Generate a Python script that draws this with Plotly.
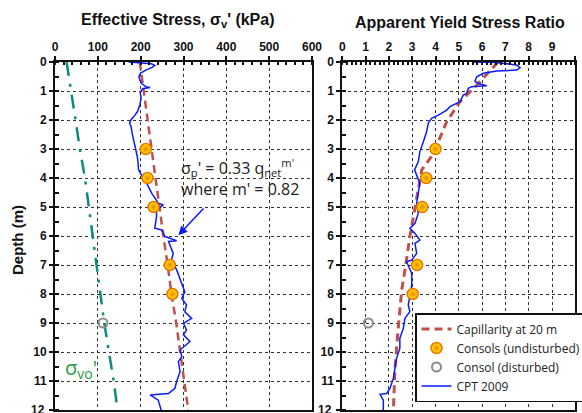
import plotly.graph_objects as go

W, H = 582, 413

# ---- data ---------------------------------------------------------------
# in-situ vertical effective stress (kPa) vs depth (m)
svo_depth = [0, 1, 2, 3, 4, 5, 6, 7, 8, 9, 10, 11, 12]
svo_kpa = [27, 38, 48, 58, 70, 79, 88, 97, 106, 115, 126, 137, 146]

# capillarity at 20 m: yield stress (kPa) and yield stress ratio
cap_depth = [0, 1, 2, 3, 3.75, 5, 6, 7, 8, 9, 10, 11, 12]
cap_kpa = [198, 207, 216, 225, 232, 243, 253, 263, 272, 283, 292, 301, 311]
cap_ratio_depth = [0, 0.8, 1.37, 2.06, 2.75, 3.09, 3.72, 4.99, 6.02, 7.17, 7.86, 9.18, 10.56, 12.06]
cap_ratio = [6.68, 5.77, 5.05, 4.48, 4.12, 3.98, 3.41, 3.12, 2.90, 2.69, 2.55, 2.40, 2.26, 2.19]

# oedometer tests
consol_depth = [3, 4, 5, 7, 8]
consol_kpa = [212, 216, 230, 268, 274]
consol_ratio = [4.0, 3.60, 3.43, 3.21, 3.02]
dist_depth = [9]
dist_kpa = [112]
dist_ratio = [1.12]

# CPT 2009 derived profile (kPa)
cpt_depth = [0.00, 0.02, 0.06, 0.12, 0.18, 0.28, 0.38, 0.50, 0.62, 0.75, 0.85, 0.88,
             0.92, 1.05, 1.25, 1.48, 1.70, 1.85, 1.98, 2.10, 2.25, 2.45, 2.65, 2.85,
             3.05, 3.25, 3.50, 3.72, 3.90, 4.18, 4.53, 4.87, 4.93, 5.10, 5.33, 5.73,
             5.79, 6.02, 6.16, 6.19, 6.60, 6.83, 7.17, 7.63, 7.92, 8.15, 8.38, 8.61,
             8.84, 9.01, 9.24, 9.41, 9.64, 9.93, 10.16, 10.33, 10.68, 11.02, 11.25,
             11.43, 11.48, 11.66, 11.89, 12.06]
cpt_kpa = [172, 200, 225, 233, 228, 212, 200, 196, 198, 203, 212, 222,
           205, 199, 201, 198, 193, 186, 178, 174, 178, 180, 183, 187,
           190, 192, 194, 195, 202, 214, 226, 241, 253, 237, 237, 233,
           249, 257, 284, 265, 276, 272, 284, 296, 303, 296, 307, 303,
           319, 300, 307, 300, 315, 292, 296, 288, 292, 284, 280,
           265, 222, 241, 245, 249]

# CPT 2009 yield stress ratio
cpt_r_depth = [0.00, 0.02, 0.10, 0.20, 0.28, 0.31, 0.39, 0.51, 0.66, 0.74, 0.82, 0.83,
               0.85, 0.91, 1.08, 1.14, 1.37, 1.54, 1.66, 1.83, 1.94, 2.11, 2.40, 2.75,
               3.09, 3.44, 3.72, 3.90, 4.18, 4.53, 4.87, 5.22, 5.56, 5.73, 5.91, 6.14,
               6.25, 6.60, 6.83, 6.89, 7.29, 7.69, 8.03, 8.38, 8.61, 8.84, 9.18, 9.53,
               9.87, 10.22, 10.56, 10.91, 11.25, 11.43, 11.46, 11.66, 12.06]
cpt_ratio = [5.62, 6.63, 7.48, 7.63, 7.48, 6.63, 6.05, 5.77, 5.69, 5.84, 6.20, 5.84,
             5.55, 5.41, 5.34, 5.19, 5.05, 4.62, 4.48, 4.12, 3.83, 3.69, 3.62, 3.48,
             3.33, 3.26, 3.10, 3.19, 3.33, 3.26, 3.19, 3.26, 3.12, 2.90, 3.12, 3.33,
             3.12, 3.19, 2.98, 2.76, 2.98, 2.98, 2.90, 2.83, 2.90, 2.69, 2.62, 2.47,
             2.47, 2.33, 2.26, 2.19, 2.05, 1.90, 1.62, 1.76, 1.76]

# ---- styles -------------------------------------------------------------
RED = "#c0504d"
BLUE = "#0a1bff"
TEAL = "#0d8a7e"
FONT = "Liberation Sans"

fig = go.Figure()

undist_marker = dict(symbol="circle", size=11, color="#ffee00",
                     gradient=dict(type="radial", color="#f08000"),
                     line=dict(color="#ee7000", width=1.5))
dist_marker = dict(symbol="circle-open", size=9, color="#8c8c8c",
                   line=dict(color="#8c8c8c", width=2))

# left panel
fig.add_trace(go.Scatter(x=svo_kpa, y=svo_depth, mode="lines", xaxis="x", yaxis="y",
                         line=dict(color=TEAL, width=2.5, dash="14px,8px,3px,8px"),
                         showlegend=False))
fig.add_trace(go.Scatter(x=cap_kpa, y=cap_depth, mode="lines", xaxis="x", yaxis="y",
                         line=dict(color=RED, width=2.5, dash="8px,5px"), showlegend=False))
fig.add_trace(go.Scatter(x=cpt_kpa, y=cpt_depth, mode="lines", xaxis="x", yaxis="y",
                         line=dict(color=BLUE, width=1.5), showlegend=False))
fig.add_trace(go.Scatter(x=consol_kpa, y=consol_depth, mode="markers", xaxis="x", yaxis="y",
                         marker=undist_marker, showlegend=False))
fig.add_trace(go.Scatter(x=dist_kpa, y=dist_depth, mode="markers", xaxis="x", yaxis="y",
                         marker=dist_marker, showlegend=False))

# right panel (lines first so the markers sit on top)
fig.add_trace(go.Scatter(x=cap_ratio, y=cap_ratio_depth, mode="lines", xaxis="x2", yaxis="y2",
                         name="Capillarity at 20 m", legendrank=1,
                         line=dict(color=RED, width=3, dash="8px,5px")))
fig.add_trace(go.Scatter(x=cpt_ratio, y=cpt_r_depth, mode="lines", xaxis="x2", yaxis="y2",
                         name="CPT 2009", legendrank=4, line=dict(color=BLUE, width=1.5)))
fig.add_trace(go.Scatter(x=consol_ratio, y=consol_depth, mode="markers", xaxis="x2", yaxis="y2",
                         name="Consols (undisturbed)", legendrank=2, marker=undist_marker))
fig.add_trace(go.Scatter(x=dist_ratio, y=dist_depth, mode="markers", xaxis="x2", yaxis="y2",
                         name="Consol (disturbed)", legendrank=3, marker=dist_marker))


def px_x(p):
    return p / W


def px_y(p):
    return 1 - p / H


tickfont = dict(family=FONT, size=12, color="#111", weight="bold")
common_x = dict(side="top", showgrid=True, gridcolor="#333", griddash="dot", gridwidth=1,
                showline=True, linecolor="#111", linewidth=2, mirror=True,
                ticks="outside", ticklen=4, tickwidth=2, tickcolor="#111", automargin=False,
                zeroline=False, tickfont=tickfont)
minor_x = dict(ticks="inside", ticklen=3, tickcolor="#111", tickwidth=1.5, showgrid=False)
common_y = dict(range=[12, 0], dtick=1, showgrid=True, gridcolor="#333", griddash="dot",
                gridwidth=1, showline=True, linecolor="#111", linewidth=2, mirror=True,
                ticks="outside", ticklen=4, tickwidth=2, tickcolor="#111", automargin=False,
                minor=dict(ticks="inside", ticklen=4, tickcolor="#111", tickwidth=1.5,
                           dtick=0.5, showgrid=False),
                zeroline=False, tickfont=tickfont)

ydom = [px_y(410), px_y(62)]
fig.update_layout(
    width=W, height=H, margin=dict(l=0, r=0, t=0, b=0, autoexpand=False),
    paper_bgcolor="white", plot_bgcolor="white",
    xaxis=dict(domain=[px_x(55), px_x(312)], range=[0, 600], dtick=100, anchor="y",
               minor={**minor_x, "dtick": 20}, **common_x),
    yaxis=dict(domain=ydom, anchor="x", **common_y),
    xaxis2=dict(domain=[px_x(342.3), px_x(575.3)], range=[0, 10], dtick=1, anchor="y2",
                minor={**minor_x, "dtick": 0.2}, **common_x),
    yaxis2=dict(domain=ydom, anchor="x2", **common_y),
    legend=dict(x=px_x(415), y=px_y(313), xanchor="left", yanchor="top",
                bgcolor="white", bordercolor="#111", borderwidth=1.5,
                font=dict(family="Open Sans", size=12, color="#222"),
                tracegroupgap=0, itemwidth=30),
    showlegend=True,
)

annotations = [
    dict(text="<b>Effective Stress, σ<sub>v</sub>' (kPa)</b>", x=px_x(178), y=px_y(21),
         xref="paper", yref="paper", xanchor="center", yanchor="middle", showarrow=False,
         font=dict(family=FONT, size=16, color="#111")),
    dict(text="<b>Apparent Yield Stress Ratio</b>", x=px_x(460), y=px_y(22),
         xref="paper", yref="paper", xanchor="center", yanchor="middle", showarrow=False,
         font=dict(family=FONT, size=16, color="#111")),
    dict(text="<b>Depth (m)</b>", x=px_x(18), y=px_y(240), xref="paper", yref="paper",
         xanchor="center", yanchor="middle",
         showarrow=False, textangle=-90, font=dict(family=FONT, size=15, color="#111")),
    dict(text="σ<sub>p</sub>' = 0.33 q<sub>net</sub><sup>m'</sup><br>where m' = 0.82",
         x=px_x(179), y=px_y(153), xref="paper", yref="paper", xanchor="left", yanchor="top",
         align="left", showarrow=False, font=dict(family="Open Sans", size=16, color="#222")),
    dict(text="σ<sub>vo</sub>'", x=px_x(63), y=px_y(368), xref="paper", yref="paper",
         xanchor="left", yanchor="middle", showarrow=False,
         font=dict(family="Open Sans", size=20, color="#1f9a3c")),
    # pointer to the CPT profile
    dict(text="", x=288, y=5.97, xref="x", yref="y", ax=350, ay=5.0, axref="x", ayref="y",
         showarrow=True, arrowhead=2, arrowsize=1.2, arrowwidth=1.5, arrowcolor=BLUE),
]
# bottom depth label, drawn where the page edge cuts the axis
for xp in (47, 334):
    annotations.append(dict(text="<b>12</b>", x=px_x(xp), y=px_y(410), xref="paper",
                            yref="paper", xanchor="right", yanchor="middle",
                            showarrow=False, font=dict(family=FONT, size=12, color="#111")))
fig.update_layout(annotations=annotations)

fig.write_html("out.html")
